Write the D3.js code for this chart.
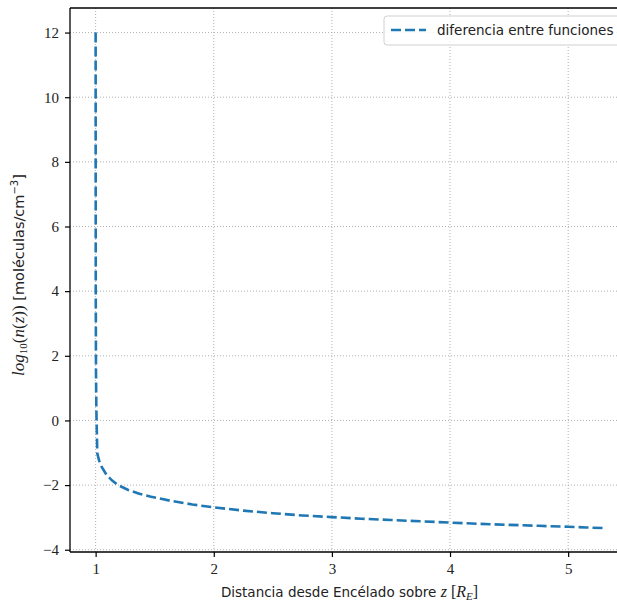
<!DOCTYPE html>
<html>
<head>
<meta charset="utf-8">
<script src="https://cdnjs.cloudflare.com/ajax/libs/d3/7.8.5/d3.min.js"></script>
<style>
  body { margin: 0; background: #fff; }
  svg { display: block; }
  .tick text { font-family: "Liberation Serif", "DejaVu Serif", serif; font-size: 15px; fill: #222; }
</style>
</head>
<body>
<script>
// distance along z (Enceladus radii) and log10 of density difference
const zVals = [1.0, 1.0003, 1.001, 1.003, 1.006, 1.008, 1.014, 1.03, 1.05, 1.093, 1.14, 1.19,
  1.276, 1.37, 1.47, 1.64, 1.82, 2.0, 2.25, 2.5, 2.75, 3.0, 3.25, 3.5, 3.75, 4.0,
  4.25, 4.5, 4.75, 5.0, 5.15, 5.3];
const logN = [12, 8, 4, 1.5, 0.4, 0, -1.02, -1.25, -1.43, -1.69, -1.86, -2.0,
  -2.15, -2.27, -2.36, -2.49, -2.6, -2.69, -2.79, -2.87, -2.94, -2.99, -3.04, -3.08, -3.12, -3.16,
  -3.2, -3.23, -3.26, -3.29, -3.31, -3.33];
const xTicks = [1, 2, 3, 4, 5];
const yTicks = [-4, -2, 0, 2, 4, 6, 8, 10, 12];
const seriesName = "diferencia entre funciones";

const W = 617, H = 603;
const pLeft = 70, pRight = 629, pTop = 8, pBottom = 552;

const data = zVals.map((z, i) => ({ z: z, v: logN[i] }));

const svg = d3.select("body").append("svg")
  .attr("width", W).attr("height", H);

const x = d3.scaleLinear().domain([0.783, 5.515]).range([pLeft, pRight]);
const y = d3.scaleLinear().domain([-4.07, 12.76]).range([pBottom, pTop]);

// grid
const grid = svg.append("g");
grid.selectAll(".gx").data(xTicks).enter().append("line")
  .attr("x1", d => x(d)).attr("x2", d => x(d))
  .attr("y1", pTop).attr("y2", pBottom)
  .attr("stroke", "#b0b0b0").attr("stroke-width", 1).attr("stroke-dasharray", "1,2");
grid.selectAll(".gy").data(yTicks).enter().append("line")
  .attr("x1", pLeft).attr("x2", pRight)
  .attr("y1", d => y(d)).attr("y2", d => y(d))
  .attr("stroke", "#b0b0b0").attr("stroke-width", 1).attr("stroke-dasharray", "1,2");

// curve
svg.append("path")
  .datum(data)
  .attr("d", d3.line().x(d => x(d.z)).y(d => y(d.v)))
  .attr("fill", "none")
  .attr("stroke", "#1f77b4")
  .attr("stroke-width", 2.6)
  .attr("stroke-dasharray", "10,4");

// axes
const fmt = d => (d < 0 ? "\u2212" + Math.abs(d) : "" + d);
svg.append("g")
  .attr("transform", "translate(0," + pBottom + ")")
  .call(d3.axisBottom(x).tickValues(xTicks).tickFormat(fmt).tickSize(5).tickPadding(6))
  .call(g => g.select(".domain").remove());
svg.append("g")
  .attr("transform", "translate(" + pLeft + ",0)")
  .call(d3.axisLeft(y).tickValues(yTicks).tickFormat(fmt).tickSize(5).tickPadding(6))
  .call(g => g.select(".domain").remove());
svg.selectAll(".tick line").attr("stroke", "#000").attr("stroke-width", 1.2);

// spines
svg.append("line").attr("x1", pLeft).attr("x2", pRight).attr("y1", pTop).attr("y2", pTop)
  .attr("stroke", "#000").attr("stroke-width", 1.3);
svg.append("line").attr("x1", pLeft).attr("x2", pRight).attr("y1", pBottom).attr("y2", pBottom)
  .attr("stroke", "#000").attr("stroke-width", 1.3);
svg.append("line").attr("x1", pLeft).attr("x2", pLeft).attr("y1", pTop).attr("y2", pBottom)
  .attr("stroke", "#000").attr("stroke-width", 1.3);

// legend
const lg = svg.append("g");
lg.append("rect").attr("x", 384).attr("y", 16).attr("width", 240).attr("height", 29)
  .attr("rx", 3).attr("fill", "#fff").attr("fill-opacity", 0.85)
  .attr("stroke", "#d0d0d0").attr("stroke-width", 1);
lg.append("line").attr("x1", 391).attr("x2", 426).attr("y1", 30).attr("y2", 30)
  .attr("stroke", "#1f77b4").attr("stroke-width", 2.6).attr("stroke-dasharray", "10,4");
lg.append("text").attr("x", 437).attr("y", 35)
  .attr("font-family", "DejaVu Sans, sans-serif").attr("font-size", 13.5).attr("fill", "#222")
  .text(seriesName);

// x label
const xl = svg.append("text").attr("x", (pLeft + pRight) / 2).attr("y", 597)
  .attr("text-anchor", "middle")
  .attr("font-family", "DejaVu Sans, sans-serif").attr("font-size", 13.5).attr("fill", "#222");
xl.append("tspan").text("Distancia desde Encélado sobre ");
xl.append("tspan").attr("font-family", "Liberation Serif, serif").attr("font-style", "italic").attr("font-size", 16).text("z");
xl.append("tspan").attr("font-family", "Liberation Serif, serif").attr("font-size", 16).text(" [");
xl.append("tspan").attr("font-family", "Liberation Serif, serif").attr("font-style", "italic").attr("font-size", 16).text("R");
xl.append("tspan").attr("font-family", "Liberation Serif, serif").attr("font-style", "italic").attr("font-size", 11).attr("dy", 3).text("E");
xl.append("tspan").attr("font-family", "Liberation Serif, serif").attr("font-size", 16).attr("dy", -3).text("]");

// y label
const yl = svg.append("text")
  .attr("transform", "translate(24," + ((pTop + pBottom) / 2 - 5) + ") rotate(-90)")
  .attr("text-anchor", "middle")
  .attr("font-family", "DejaVu Sans, sans-serif").attr("font-size", 14.5).attr("fill", "#222");
const serif = () => yl.append("tspan").attr("font-family", "Liberation Serif, serif").attr("font-size", 17);
serif().attr("font-style", "italic").text("log");
serif().attr("font-size", 11).attr("dy", 3).text("10");
serif().attr("dy", -3).text("(");
serif().attr("font-style", "italic").text("n");
serif().text("(");
serif().attr("font-style", "italic").text("z");
serif().text("))");
yl.append("tspan").text(" [moléculas/cm");
yl.append("tspan").attr("font-size", 10).attr("dy", -6).text("\u22123");
yl.append("tspan").attr("dy", 6).text("]");
</script>
</body>
</html>
